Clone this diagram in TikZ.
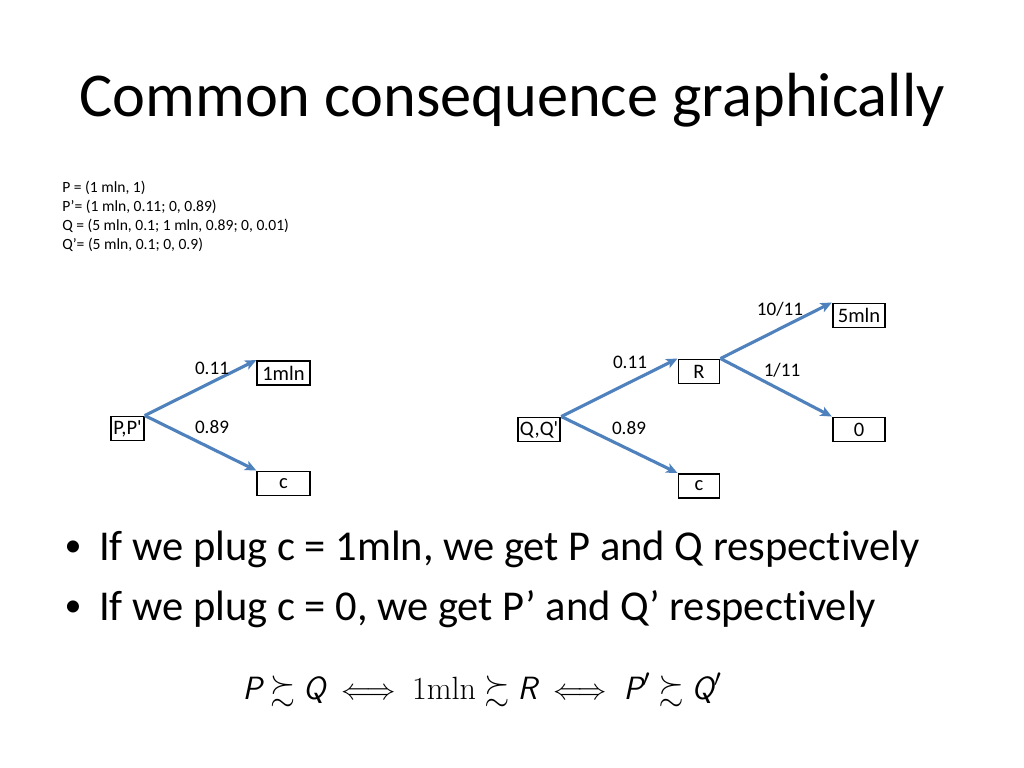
\documentclass[tikz,border=0pt]{standalone}
\usepackage{amssymb}
\usepackage{fontspec}
\setmainfont{Carlito}[Ligatures={NoCommon}]
\newfontfamily\lmroman{Latin Modern Roman}
\usetikzlibrary{arrows.meta}
\definecolor{arrowblue}{HTML}{4F81BD}
\tikzset{
  outcome/.style={draw=black,line width=1.3pt,minimum height=17pt,inner xsep=1.5pt,inner ysep=0pt,font=\fontsize{14.5}{16}\selectfont},
  branch/.style={arrowblue,line width=2.2pt,-{Stealth[length=8pt,width=7pt,inset=2pt]}},
  prob/.style={font=\fontsize{13.5}{15}\selectfont}
}
\begin{document}
\begin{tikzpicture}[x=0.0248cm,y=-0.0248cm]
\useasboundingbox (0,0) rectangle (1024,768);
\node (title) at (512,100) {\fontsize{44}{50}\selectfont Common consequence graphically};
\node[anchor=north west,align=left,inner sep=0pt,font=\fontsize{11}{13.4}\selectfont] (lotteries) at (62,181)
  {P = (1 mln, 1)\\P’= (1 mln, 0.11; 0, 0.89)\\Q = (5 mln, 0.1; 1 mln, 0.89; 0, 0.01)\\Q’= (5 mln, 0.1; 0, 0.9)};
% left tree
\node[outcome] (pp) at (127.5,428.5) {P,P\textquotesingle};
\node[outcome,minimum width=37pt] (onemln) at (283.5,373) {1mln};
\node[outcome,minimum width=37pt] (cl) at (283.5,483.5) {c};
\draw[branch] (pp.north east) -- (onemln.north west);
\draw[branch] (pp.north east) -- (cl.north west);
\node[prob] (pa) at (212,368) {0.11};
\node[prob] (pb) at (212,427) {0.89};
% right tree
\node[outcome] (qq) at (539,429.5) {Q,Q\textquotesingle};
\node[outcome,minimum width=29pt] (r) at (699,371.5) {R};
\node[outcome,minimum width=29pt] (cr) at (699,486) {c};
\node[outcome,minimum width=37pt] (fivemln) at (859,315.5) {5mln};
\node[outcome,minimum width=37pt] (zero) at (859,429.5) {0};
\draw[branch] (qq.north east) -- (r.north west);
\draw[branch] (qq.north east) -- (cr.north west);
\draw[branch] (r.north east) -- (fivemln.north west);
\draw[branch] (r.north east) -- (zero.north west);
\node[prob] (qa) at (630,362) {0.11};
\node[prob] (qb) at (629,428) {0.89};
\node[prob] (ra) at (780,309) {10/11};
\node[prob] (rb) at (782,370) {1/11};
% bullets
\node (dot1) at (73,549) {\fontsize{24}{28}\selectfont •};
\node[anchor=west] (bul1) at (94,549) {\fontsize{30}{34}\selectfont If we plug c = 1mln, we get P and Q respectively};
\node (dot2) at (73,609) {\fontsize{24}{28}\selectfont •};
\node[anchor=west] (bul2) at (94,609) {\fontsize{30}{34}\selectfont If we plug c = 0, we get P’ and Q’ respectively};
% equivalence
\node (equiv) at (482,690) {\fontsize{22.7}{26}\selectfont $\textsf{\itshape P}\succsim\textsf{\itshape Q}\iff \mbox{\lmroman 1mln}\succsim\textsf{\itshape R}\iff\textsf{\itshape P}'\succsim\textsf{\itshape Q}'$};
\end{tikzpicture}
\end{document}
